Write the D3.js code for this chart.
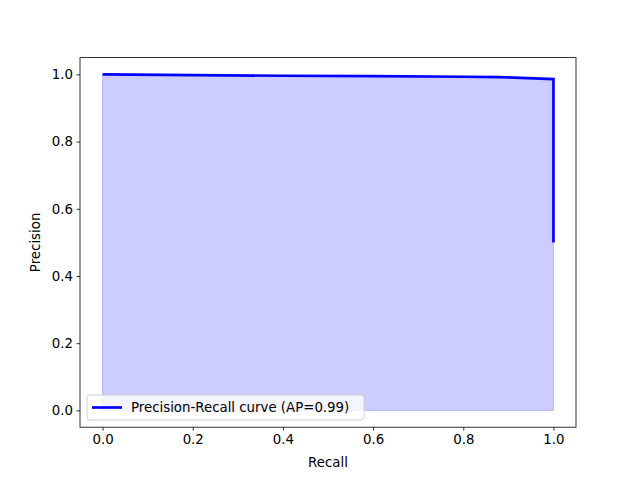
<!DOCTYPE html>
<html>
<head>
<meta charset="utf-8">
<script src="https://cdn.jsdelivr.net/npm/d3@7"></script>
<style>
  body { margin: 0; background: #fff; }
  text { font-family: "DejaVu Sans", sans-serif; }
</style>
</head>
<body>
<div id="chart"></div>
<script>
const recall = [0, 0.2, 0.4, 0.6, 0.8, 0.88, 1.0, 1.0];
const precision = [1.0, 0.998, 0.996, 0.995, 0.993, 0.992, 0.986, 0.5];
const xTicks = [0, 0.2, 0.4, 0.6, 0.8, 1.0];
const yTicks = [0, 0.2, 0.4, 0.6, 0.8, 1.0];
const legendLabel = 'Precision-Recall curve (AP=0.99)';

const width = 640;
const height = 480;
const margin = {top: 57.6, right: 64, bottom: 52.8, left: 80};
const points = recall.map((r, i) => ({r: r, p: precision[i]}));

// Scales
const xScale = d3.scaleLinear()
  .domain([-0.05, 1.05])
  .range([margin.left, width - margin.right]);

const yScale = d3.scaleLinear()
  .domain([-0.05, 1.05])
  .range([height - margin.bottom, margin.top]);

const svg = d3.select('#chart').append('svg')
  .attr('width', width)
  .attr('height', height);

// filled area under the curve
const area = d3.area()
  .x(d => xScale(d.r))
  .y0(yScale(0))
  .y1(d => yScale(d.p));

svg.append('path')
  .datum(points)
  .attr('d', area)
  .attr('fill', 'rgba(0,0,255,0.2)')
  .attr('stroke', 'rgba(0,0,255,0.2)')
  .attr('stroke-width', 1);

// the curve
const line = d3.line()
  .x(d => xScale(d.r))
  .y(d => yScale(d.p));

svg.append('path')
  .datum(points)
  .attr('d', line)
  .attr('fill', 'none')
  .attr('stroke', '#0000ff')
  .attr('stroke-width', 2.67);

// Axes
const xAxis = d3.axisBottom(xScale).tickValues(xTicks).tickFormat(d3.format('.1f')).tickSize(3.5).tickPadding(3.5);
const yAxis = d3.axisLeft(yScale).tickValues(yTicks).tickFormat(d3.format('.1f')).tickSize(3.5).tickPadding(3.5);

const xAxisG = svg.append('g')
  .attr('transform', `translate(0, ${height - margin.bottom})`)
  .call(xAxis);

const yAxisG = svg.append('g')
  .attr('transform', `translate(${margin.left}, 0)`)
  .call(yAxis);

[xAxisG, yAxisG].forEach(g => {
  g.select('.domain').remove();
  g.selectAll('.tick line').attr('stroke', '#000').attr('stroke-width', 0.8);
  g.selectAll('.tick text').attr('fill', '#000').style('font-size', '13.33px').style('font-family', '"DejaVu Sans", sans-serif');
});

// frame
svg.append('rect')
  .attr('x', margin.left)
  .attr('y', margin.top)
  .attr('width', width - margin.left - margin.right)
  .attr('height', height - margin.top - margin.bottom)
  .attr('fill', 'none')
  .attr('stroke', '#000')
  .attr('stroke-width', 0.8);

// axis labels
svg.append('text')
  .attr('x', (margin.left + width - margin.right) / 2)
  .attr('y', 467)
  .attr('text-anchor', 'middle')
  .style('font-size', '13.33px')
  .text('Recall');

svg.append('text')
  .attr('transform', 'rotate(-90)')
  .attr('x', -(margin.top + height - margin.bottom) / 2)
  .attr('y', 40)
  .attr('text-anchor', 'middle')
  .style('font-size', '13.33px')
  .text('Precision');

// Legend
const legendG = svg.append('g')
  .attr('transform', `translate(87, 395)`);

legendG.append('rect')
  .attr('width', 277)
  .attr('height', 25)
  .attr('rx', 3)
  .attr('fill', 'rgba(255,255,255,0.8)')
  .attr('stroke', '#d0d0d0')
  .attr('stroke-width', 1);

legendG.append('line')
  .attr('x1', 5)
  .attr('x2', 35)
  .attr('y1', 12.5)
  .attr('y2', 12.5)
  .attr('stroke', '#0000ff')
  .attr('stroke-width', 2.67);

legendG.append('text')
  .attr('x', 44)
  .attr('y', 17)
  .style('font-size', '13.33px')
  .text(legendLabel);
</script>
</body>
</html>
